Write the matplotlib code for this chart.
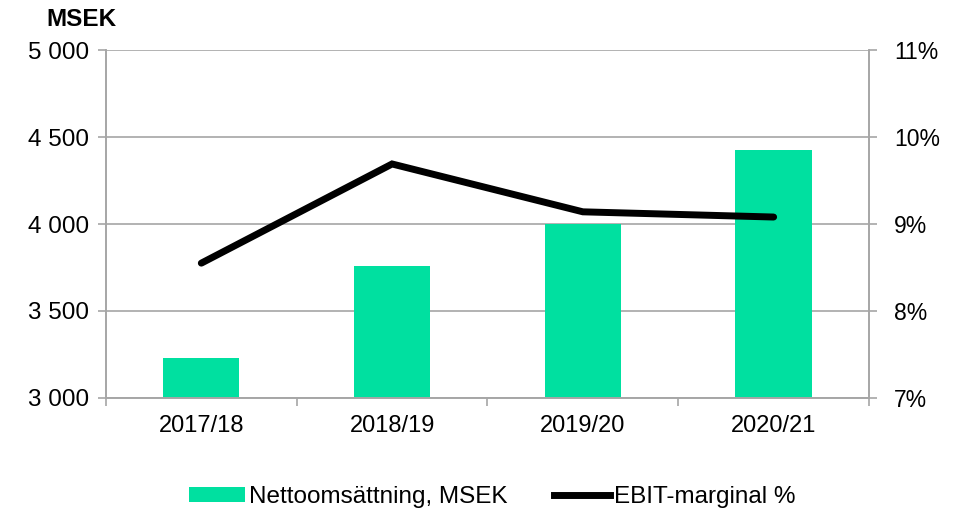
import matplotlib
matplotlib.use("Agg")
import matplotlib.pyplot as plt
from matplotlib.ticker import FuncFormatter, MultipleLocator
from matplotlib.patches import Patch
from matplotlib.lines import Line2D
import numpy as np

plt.rcParams["font.family"] = ["Liberation Sans", "DejaVu Sans"]

years = ["2017/18", "2018/19", "2019/20", "2020/21"]
net_sales = [3230, 3758, 3998, 4425]        # MSEK
ebit_margin = [8.55, 9.69, 9.14, 9.08]      # %

GREEN = "#00E0A0"
GRID = "#A6A6A6"

fig = plt.figure(figsize=(9.63, 5.14), dpi=100)
ax = fig.add_axes([0.110, 0.2257, 0.7924, 0.677])
ax2 = ax.twinx()

x = np.arange(len(years))
ax.bar(x, net_sales, width=0.40, color=GREEN, zorder=2)
ax.set_ylim(3000, 5000)
ax.set_xlim(-0.5, len(years) - 0.5)
ax.yaxis.set_major_locator(MultipleLocator(500))
ax.yaxis.set_major_formatter(FuncFormatter(lambda v, p: f"{int(v):,}".replace(",", " ")))
ax.grid(axis="y", color=GRID, linewidth=1.2, zorder=0)
ax.set_axisbelow(True)

ax.set_xticks(x)
ax.set_xticklabels(years, fontsize=17)
ax.set_xticks(np.arange(-0.5, len(years)), minor=True)
ax.tick_params(axis="x", which="major", length=0, pad=12)
ax.tick_params(axis="x", which="minor", length=6, color=GRID, width=1.2)
ax.tick_params(axis="y", labelsize=17.5, length=6, color=GRID, width=1.2, pad=6)

ax2.plot(x, ebit_margin, color="black", linewidth=5, solid_capstyle="round",
         solid_joinstyle="miter", zorder=3)
ax2.set_ylim(7, 11)
ax2.yaxis.set_major_locator(MultipleLocator(1))
ax2.yaxis.set_major_formatter(FuncFormatter(lambda v, p: f"{int(round(v))}%"))
ax2.tick_params(axis="y", labelsize=16.5, length=6, color=GRID, width=1.2, pad=12)

for a in (ax, ax2):
    a.spines["top"].set_visible(False)
    for s in ("left", "right", "bottom"):
        a.spines[s].set_color(GRID)
        a.spines[s].set_linewidth(1.2)

fig.text(0.048, 0.963, "MSEK", fontsize=17.5, fontweight="bold", ha="left", va="center")

handles = [Patch(facecolor=GREEN, edgecolor="none"),
           Line2D([0], [0], color="black", linewidth=5)]
fig.legend(handles, ["Nettoomsättning, MSEK", "EBIT-marginal %"],
           loc="center", bbox_to_anchor=(0.511, 0.033), ncol=2, frameon=False,
           fontsize=17.5, handlelength=2.3, handleheight=0.55, handletextpad=0.17,
           columnspacing=1.9)

fig.savefig("out.png", dpi=100)
